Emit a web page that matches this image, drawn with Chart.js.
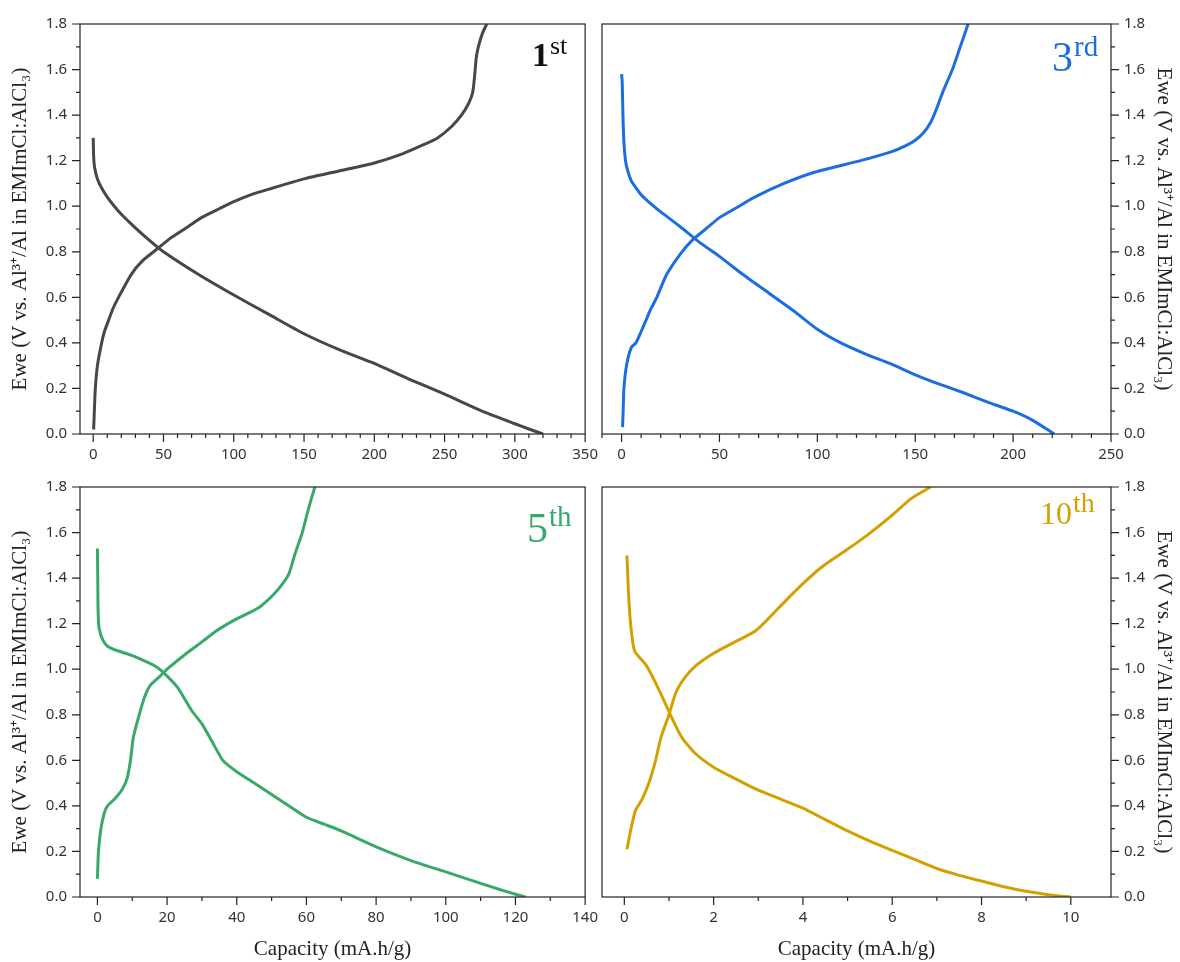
<!DOCTYPE html>
<html>
<head>
<meta charset="utf-8">
<script src="https://cdn.jsdelivr.net/npm/chart.js@4.4.1/dist/chart.umd.min.js"></script>
<style>
  body { margin: 0; background: #fff; width: 1180px; height: 962px; overflow: hidden; position: relative; }
  .panel { position: absolute; }
  .tag { position: absolute; font-family: 'Liberation Serif', serif; line-height: 1; white-space: nowrap; z-index: 5; }
  .tag span { position: relative; margin-left: 1px; }
</style>
</head>
<body>
<div class="panel" style="left:0;top:0;width:610px;height:470px"><canvas id="c1"></canvas></div>
<div class="panel" style="left:592px;top:0;width:588px;height:470px"><canvas id="c3"></canvas></div>
<div class="panel" style="left:0;top:463px;width:610px;height:499px"><canvas id="c5"></canvas></div>
<div class="panel" style="left:592px;top:463px;width:588px;height:499px"><canvas id="c10"></canvas></div>

<div class="tag" style="left:532px;top:38px;color:#111;font-size:34px"><b>1</b><span style="font-size:26px;top:-12px">st</span></div>
<div class="tag" style="left:1052px;top:36px;color:#1c6edf;font-size:42px">3<span style="font-size:29px;top:-15px">rd</span></div>
<div class="tag" style="left:527px;top:507px;color:#37aa69;font-size:42px">5<span style="font-size:29px;top:-16px">th</span></div>
<div class="tag" style="left:1040px;top:497px;color:#d4a000;font-size:32px">10<span style="font-size:28px;top:-12px">th</span></div>

<script>
// 1st cycle
const cap1Charge = [0.3, 0.8, 1.5, 3, 6, 8, 11, 14, 18, 27, 35, 45, 55, 65, 77, 90, 100, 112, 125, 150, 175, 200, 220, 235, 245, 255, 262, 267, 270, 271.5, 272.5, 274, 277, 280];
const v1Charge = [0.02, 0.1, 0.2, 0.3, 0.4, 0.45, 0.5, 0.55, 0.6, 0.7, 0.76, 0.81, 0.86, 0.9, 0.95, 0.99, 1.02, 1.05, 1.075, 1.12, 1.155, 1.19, 1.23, 1.27, 1.3, 1.35, 1.4, 1.45, 1.5, 1.58, 1.65, 1.7, 1.76, 1.8];
const cap1Dis = [0, 0.3, 1, 3, 6, 10, 15, 20, 30, 40, 50, 75, 100, 125, 150, 175, 200, 225, 250, 275, 300, 310, 320];
const v1Dis = [1.3, 1.22, 1.17, 1.12, 1.08, 1.04, 1.0, 0.965, 0.905, 0.85, 0.8, 0.7, 0.61, 0.525, 0.44, 0.37, 0.31, 0.24, 0.175, 0.105, 0.045, 0.022, 0.0];

// 3rd cycle
const cap3Charge = [0.5, 0.8, 1.2, 2.5, 5, 7.3, 10, 12.5, 15, 18, 23, 30, 36, 43, 50, 58, 68, 83, 99, 122, 138, 145, 150, 154, 158, 161, 164, 169, 173, 177];
const v3Charge = [0.03, 0.1, 0.2, 0.3, 0.38, 0.4, 0.45, 0.5, 0.55, 0.6, 0.7, 0.79, 0.85, 0.9, 0.95, 0.99, 1.04, 1.1, 1.15, 1.2, 1.24, 1.265, 1.29, 1.32, 1.37, 1.43, 1.5, 1.6, 1.7, 1.8];
const cap3Dis = [0, 0.3, 0.7, 1.2, 2, 3, 5, 7, 10, 15, 20, 30, 40, 50, 62, 75, 88, 100, 112, 125, 137, 150, 162, 175, 187, 200, 210, 221];
const v3Dis = [1.58, 1.55, 1.4, 1.28, 1.2, 1.16, 1.11, 1.085, 1.05, 1.01, 0.975, 0.91, 0.84, 0.78, 0.7, 0.62, 0.54, 0.46, 0.4, 0.35, 0.31, 0.26, 0.22, 0.18, 0.14, 0.1, 0.06, 0.0];

// 5th cycle
const cap5Charge = [0, 0.3, 1, 2, 2.9, 4.9, 7, 8.5, 9.5, 10.3, 12, 13.6, 15.2, 18, 20, 25.6, 30, 34.3, 39.8, 46.3, 50.7, 53.4, 55, 56.6, 58.8, 60.5, 62.4];
const v5Charge = [0.08, 0.2, 0.3, 0.37, 0.4, 0.43, 0.47, 0.52, 0.6, 0.7, 0.8, 0.88, 0.93, 0.97, 1.0, 1.07, 1.12, 1.17, 1.22, 1.27, 1.33, 1.38, 1.42, 1.5, 1.6, 1.7, 1.8];
const cap5Dis = [0, 0.1, 0.2, 0.5, 1.5, 3, 6, 10, 13, 17, 20, 23, 27, 30, 33, 36, 40, 45, 50, 55, 60, 65, 70, 80, 90, 100, 110, 115, 120, 123];
const v5Dis = [1.53, 1.4, 1.25, 1.18, 1.13, 1.1, 1.08, 1.06, 1.04, 1.01, 0.97, 0.92, 0.82, 0.76, 0.68, 0.6, 0.55, 0.5, 0.45, 0.4, 0.35, 0.32, 0.29, 0.22, 0.16, 0.11, 0.06, 0.035, 0.012, 0.0];

// 10th cycle
const cap10Charge = [0.06, 0.15, 0.25, 0.4, 0.55, 0.7, 0.82, 1.0, 1.16, 1.38, 1.63, 2.0, 2.48, 2.95, 3.46, 3.97, 4.43, 4.95, 5.45, 5.96, 6.43, 6.86];
const v10Charge = [0.21, 0.3, 0.38, 0.43, 0.5, 0.6, 0.7, 0.8, 0.9, 0.97, 1.02, 1.07, 1.12, 1.17, 1.27, 1.37, 1.45, 1.52, 1.59, 1.67, 1.75, 1.8];
const cap10Dis = [0.06, 0.09, 0.14, 0.23, 0.48, 0.65, 0.87, 1.08, 1.29, 1.59, 2.0, 2.48, 2.99, 3.5, 4.0, 4.5, 5.0, 5.5, 6.0, 6.5, 7.0, 7.5, 8.0, 8.5, 9.0, 9.5, 10.0];
const v10Dis = [1.5, 1.35, 1.2, 1.08, 1.02, 0.96, 0.87, 0.78, 0.7, 0.63, 0.57, 0.52, 0.47, 0.43, 0.39, 0.34, 0.29, 0.245, 0.205, 0.165, 0.125, 0.095, 0.07, 0.045, 0.025, 0.01, 0.0];

// tick labels
const yTicks = [0, 0.2, 0.4, 0.6, 0.8, 1.0, 1.2, 1.4, 1.6, 1.8];
const x1Ticks = [0, 50, 100, 150, 200, 250, 300, 350];
const x3Ticks = [0, 50, 100, 150, 200, 250];
const x5Ticks = [0, 20, 40, 60, 80, 100, 120, 140];
const x10Ticks = [0, 2, 4, 6, 8, 10];

const yTitle = 'Ewe (V vs. Al\u00B3\u207A/Al in EMImCl:AlCl\u2083)';
const xTitle = 'Capacity (mA.h/g)';

const pts = (xs, ys) => xs.map((x, i) => ({x: x, y: ys[i]}));
const steps = (from, to, step) => {
    const out = [];
    for (let v = from; v <= to + 1e-9; v += step) out.push(+v.toFixed(4));
    return out;
};

// frame + major/minor tick marks
const axisDecor = {
    id: 'axisDecor',
    afterDraw(chart, args, o) {
        const {ctx, chartArea: a, scales} = chart;
        const xs = scales.x, ys = scales.y;
        ctx.save();
        ctx.strokeStyle = '#222';
        ctx.lineWidth = 1.2;
        ctx.strokeRect(a.left, a.top, a.right - a.left, a.bottom - a.top);
        ctx.beginPath();
        const xTick = (v, len) => {
            const px = xs.getPixelForValue(v);
            if (px < a.left - 0.5 || px > a.right + 0.5) return;
            ctx.moveTo(px, a.bottom);
            ctx.lineTo(px, a.bottom + len);
        };
        const yTick = (v, len) => {
            const py = ys.getPixelForValue(v);
            const x0 = o.right ? a.right : a.left;
            ctx.moveTo(x0, py);
            ctx.lineTo(o.right ? x0 + len : x0 - len, py);
        };
        o.xMajor.forEach(v => xTick(v, 8));
        o.xMinor.forEach(v => xTick(v, 4));
        yTicks.forEach(v => yTick(v, 8));
        steps(0.1, 1.7, 0.2).forEach(v => yTick(v, 4));
        ctx.stroke();
        ctx.restore();
    }
};

function makePanel(id, c) {
    const tickFont = {family: "'Noto Sans', sans-serif", size: 15};
    const titleFont = {family: "'Liberation Serif', serif", size: 21};
    return new Chart(document.getElementById(id), {
        type: 'scatter',
        data: {
            datasets: [
                {data: pts(c.capC, c.vC), borderColor: c.color, borderWidth: 3, showLine: true, pointRadius: 0, tension: 0.2},
                {data: pts(c.capD, c.vD), borderColor: c.color, borderWidth: 3, showLine: true, pointRadius: 0, tension: 0.2}
            ]
        },
        options: {
            responsive: true,
            maintainAspectRatio: false,
            animation: false,
            layout: {padding: c.pad},
            plugins: {
                legend: {display: false},
                tooltip: {enabled: false},
                axisDecor: {xMajor: c.xTicks, xMinor: c.xMinor, right: c.right}
            },
            scales: {
                x: {
                    type: 'linear',
                    min: c.xMin, max: c.xMax,
                    grid: {display: false, drawTicks: false},
                    border: {display: false},
                    afterBuildTicks: s => { s.ticks = c.xTicks.map(v => ({value: v})); },
                    afterFit: s => { s.height = c.xH; },
                    ticks: {font: tickFont, color: '#333', padding: 12, maxRotation: 0, autoSkip: false},
                    title: {display: c.showXTitle, text: xTitle, font: titleFont, color: '#222', padding: {top: 0, bottom: 0}}
                },
                y: {
                    type: 'linear',
                    position: c.right ? 'right' : 'left',
                    min: 0, max: 1.8,
                    grid: {display: false, drawTicks: false},
                    border: {display: false},
                    afterBuildTicks: s => { s.ticks = yTicks.map(v => ({value: v})); },
                    afterFit: s => { s.width = c.yW; },
                    ticks: {font: tickFont, color: '#333', padding: 13, callback: v => v.toFixed(1)},
                    title: {display: true, text: yTitle, font: titleFont, color: '#222', padding: {top: c.titlePad, bottom: 0}}
                }
            }
        },
        plugins: [axisDecor]
    });
}

makePanel('c1', {
    capC: cap1Charge, vC: v1Charge, capD: cap1Dis, vD: v1Dis, color: '#474747',
    xMin: -9.4, xMax: 350, xTicks: x1Ticks, xMinor: steps(10, 340, 10).filter(v => v % 50 !== 0),
    right: false, yW: 80, xH: 36, pad: {top: 24, right: 20, left: 0, bottom: 0}, titlePad: 8, showXTitle: false
});
makePanel('c3', {
    capC: cap3Charge, vC: v3Charge, capD: cap3Dis, vD: v3Dis, color: '#1c6edf',
    xMin: -10, xMax: 250, xTicks: x3Ticks, xMinor: steps(-10, 240, 10).filter(v => v % 50 !== 0),
    right: true, yW: 69, xH: 36, pad: {top: 24, right: 0, left: 10, bottom: 0}, titlePad: 4, showXTitle: false
});
makePanel('c5', {
    capC: cap5Charge, vC: v5Charge, capD: cap5Dis, vD: v5Dis, color: '#37aa69',
    xMin: -5, xMax: 140, xTicks: x5Ticks, xMinor: steps(10, 130, 20),
    right: false, yW: 80, xH: 65, pad: {top: 24, right: 20, left: 0, bottom: 0}, titlePad: 8, showXTitle: true
});
makePanel('c10', {
    capC: cap10Charge, vC: v10Charge, capD: cap10Dis, vD: v10Dis, color: '#d4a000',
    xMin: -0.5, xMax: 10.9, xTicks: x10Ticks, xMinor: steps(1, 9, 2),
    right: true, yW: 69, xH: 65, pad: {top: 24, right: 0, left: 10, bottom: 0}, titlePad: 4, showXTitle: true
});
</script>
</body>
</html>
